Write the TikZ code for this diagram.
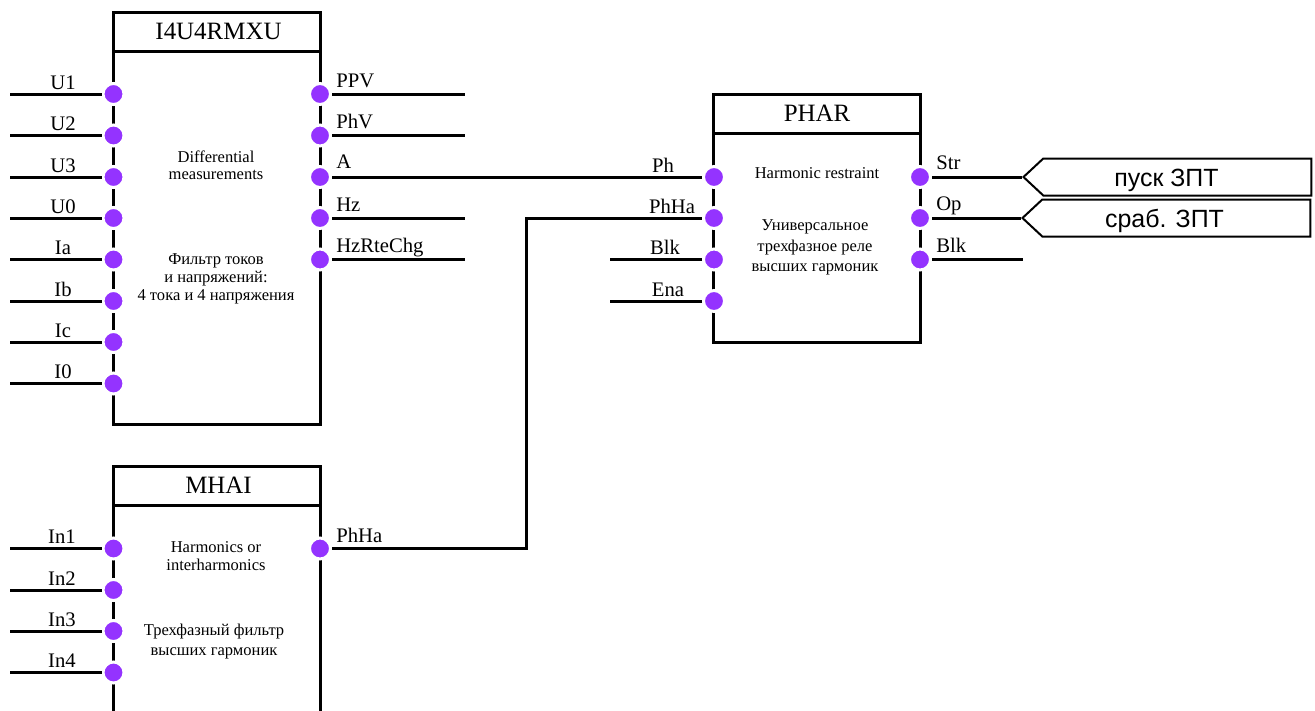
\documentclass[tikz,border=0pt]{standalone}
\usepackage{fontspec}
\setmainfont{Liberation Serif}
\newfontfamily\tagfont{Liberation Sans}
\usetikzlibrary{positioning,shapes.symbols}
\definecolor{pinviolet}{RGB}{148,51,255}
\tikzset{
  blk/.style={draw=black, line width=2.25pt, minimum width=155.25pt, inner sep=0pt, outer sep=0pt},
  ttl/.style={blk, minimum height=29.25pt, font=\fontsize{18.7}{20}\selectfont},
  wire/.style={black, line width=2.25pt},
  pin/.style={circle, fill=pinviolet, draw=white, line width=2.25pt, inner sep=0pt, minimum size=15.75pt},
  plab/.style={anchor=base, inner sep=0pt, font=\fontsize{15.5}{17}\selectfont},
  rlab/.style={plab, anchor=base west},
  note/.style={align=center, font=\fontsize{12.4}{13}\selectfont},
  tagbox/.style={signal, signal to=west, signal pointer angle=86, draw=black, line width=1.5pt,
    inner sep=0pt, minimum width=216pt, minimum height=27.75pt},
  tagtxt/.style={anchor=base, inner sep=0pt, font=\tagfont\fontsize{18.7}{20}\selectfont},
}
\begin{document}
\begin{tikzpicture}[x=0.75pt, y=-0.75pt]
\useasboundingbox (0,0) rectangle (1315,711);
% I4U4RMXU
\node[ttl] (i4title) at (216.5,31.5) {\hspace{3pt}I4U4RMXU};
\node[blk, minimum height=279.75pt, below=0pt of i4title] (i4body) {};
\node[note] (i4note1) at (216,165) {Differential\\measurements};
\node[note, font=\fontsize{12.4}{13.5}\selectfont] (i4note2) at (216,279) {Фильтр токов\\и напряжений:\\4 тока и 4 напряжения};
\foreach \y/\lab [count=\n] in {94/U1,135.5/U2,177/U3,218/U0,259.5/Ia,301/Ib,342/Ic,383.5/I0}{
  \node[pin] (i4in\n) at (113.5,\y) {};
  \coordinate (i4inend\n) at (10,\y);
  \draw[wire] (i4in\n) -- (i4inend\n);
  \node[plab] (i4intxt\n) at (63,\y-5) {\lab};
}
\foreach \y/\lab [count=\n] in {94/PPV,135.5/PhV,218/Hz,259.5/HzRteChg}{
  \node[pin] (i4out\n) at (320,\y) {};
  \coordinate (i4outend\n) at (465,\y);
  \draw[wire] (i4out\n) -- (i4outend\n);
  \node[rlab] (i4outtxt\n) at (336,\y-7) {\lab};
}
\node[pin] (i4outa) at (320,177) {};
\node[rlab] (i4outatxt) at (336,168) {A};
% MHAI
\node[ttl] (mhtitle) at (216.5,485.5) {\hspace{3pt}MHAI};
\coordinate (mhbl) at (mhtitle.south west |- 0,713);
\coordinate (mhbr) at (mhtitle.south east |- 0,713);
\draw[wire] (mhtitle.south west) -- (mhbl);
\draw[wire] (mhtitle.south east) -- (mhbr);
\node[note] (mhnote1) at (216,556) {Harmonics or\\interharmonics};
\node[note, font=\fontsize{12.4}{15}\selectfont] (mhnote2) at (214,642) {Трехфазный фильтр\\высших гармоник};
\foreach \y/\lab [count=\n] in {548.5/In1,590/In2,631/In3,672.5/In4}{
  \node[pin] (mhin\n) at (113.5,\y) {};
  \coordinate (mhinend\n) at (10,\y);
  \draw[wire] (mhin\n) -- (mhinend\n);
  \node[plab] (mhintxt\n) at (62,\y-5) {\lab};
}
\node[pin] (mhout) at (320,548.5) {};
\node[rlab] (mhouttxt) at (336,542) {PhHa};
% PHAR
\node[ttl] (phtitle) at (817,113.5) {PHAR\hspace{2pt}};
\node[blk, minimum height=156.75pt, below=0pt of phtitle] (phbody) {};
\node[note] (phnote1) at (817,173) {Harmonic restraint};
\node[note, font=\fontsize{12.4}{15.5}\selectfont] (phnote2) at (815,247.5) {Универсальное\\трехфазное реле\\высших гармоник};
\foreach \y/\x/\lab [count=\n] in {177/663/Ph,218/672/PhHa,259.5/665/Blk,301/668/Ena}{
  \node[pin] (phin\n) at (714,\y) {};
  \node[plab] (phintxt\n) at (\x,\y-5) {\lab};
}
\foreach \y/\lab [count=\n] in {177/Str,218/Op,259.5/Blk}{
  \node[pin] (phout\n) at (920,\y) {};
  \node[rlab] (phouttxt\n) at (936,\y-7.5) {\lab};
}
\coordinate (phinend3) at (610,259.5);
\coordinate (phinend4) at (610,301);
\coordinate (phoutend3) at (1023,259.5);
\draw[wire] (phin3) -- (phinend3);
\draw[wire] (phin4) -- (phinend4);
\draw[wire] (phout3) -- (phoutend3);
% tags
\node[tagbox, anchor=west] (tagstart) at (1022,177) {};
\node[tagbox, anchor=west] (tagtrip) at (1021,218) {};
\node[tagtxt] (tagstarttxt) at (1166.5,186.5) {пуск ЗПТ};
\node[tagtxt] (tagtriptxt) at (1164.5,227) {сраб. ЗПТ};
\draw[wire] (phout1) -- (tagstart.west);
\draw[wire] (phout2) -- (tagtrip.west);
% links
\draw[wire] (i4outa) -- (phin1);
\coordinate (bend1) at (526,548.5);
\coordinate (bend2) at (526,218);
\draw[wire, line join=miter] (mhout) -- (bend1) -- (bend2) -- (phin2);
\end{tikzpicture}
\end{document}
